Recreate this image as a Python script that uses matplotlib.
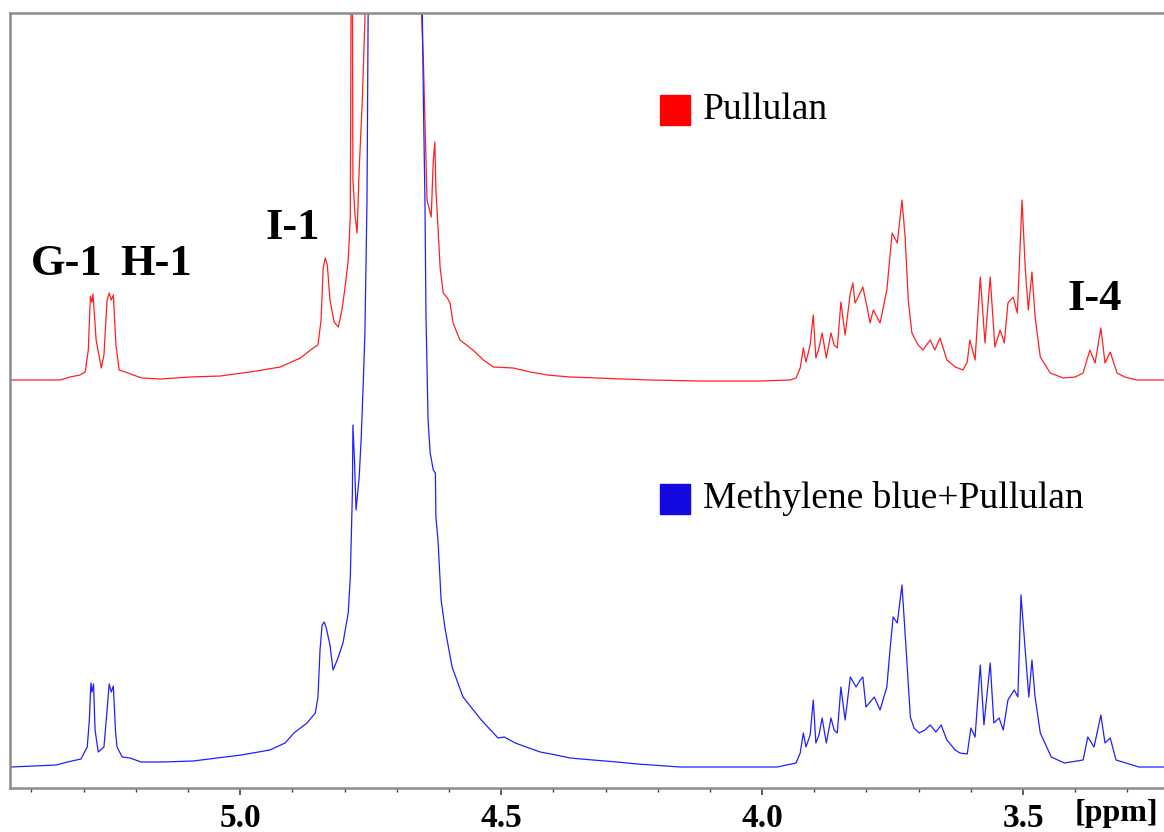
"""1H NMR spectra of pullulan with and without methylene blue (stacked)."""

import matplotlib

matplotlib.use("Agg")
import matplotlib.pyplot as plt  # noqa: E402
from matplotlib.ticker import MultipleLocator  # noqa: E402

# ---- data (chemical shift in ppm, intensity above each trace's baseline) ----
pullulan_ppm = [
    5.441, 5.393, 5.345, 5.326, 5.307, 5.297, 5.291, 5.287, 5.284, 5.282,
    5.276, 5.266, 5.261, 5.255, 5.251, 5.247, 5.243, 5.238, 5.232, 5.220,
    5.205, 5.188, 5.153, 5.096, 5.038, 4.981, 4.923, 4.885, 4.860, 4.851,
    4.845, 4.841, 4.837, 4.833, 4.828, 4.820, 4.812, 4.805, 4.799, 4.793,
    4.789, 4.786, 4.784, 4.780, 4.776, 4.772, 4.766, 4.761, 4.707, 4.653,
    4.649, 4.642, 4.634, 4.630, 4.627, 4.625, 4.622, 4.617, 4.611, 4.603,
    4.598, 4.592, 4.579, 4.554, 4.534, 4.515, 4.477, 4.444, 4.412, 4.368,
    4.316, 4.215, 4.119, 4.004, 3.946, 3.935, 3.927, 3.921, 3.916, 3.908,
    3.902, 3.897, 3.891, 3.885, 3.877, 3.868, 3.862, 3.856, 3.849, 3.841,
    3.831, 3.826, 3.822, 3.816, 3.807, 3.799, 3.793, 3.787, 3.774, 3.761,
    3.751, 3.741, 3.732, 3.726, 3.720, 3.713, 3.701, 3.692, 3.678, 3.669,
    3.659, 3.646, 3.630, 3.615, 3.607, 3.602, 3.592, 3.582, 3.573, 3.563,
    3.554, 3.544, 3.536, 3.529, 3.519, 3.511, 3.502, 3.496, 3.490, 3.483,
    3.477, 3.467, 3.448, 3.423, 3.400, 3.385, 3.372, 3.362, 3.351, 3.343,
    3.333, 3.320, 3.305, 3.282, 3.230,
]
pullulan_int = [
    0, 0, 0, 3, 5, 8, 30, 84, 78, 86,
    40, 12, 25, 80, 87, 80, 85, 35, 10, 8,
    5, 2, 1, 3, 4, 8, 13, 22, 32, 35,
    60, 112, 122, 115, 80, 58, 53, 70, 93, 120,
    163, 600, 200, 165, 147, 210, 280, 360, 1500, 370,
    320, 180, 163, 220, 238, 190, 163, 113, 87, 82,
    77, 57, 40, 30, 20, 13, 12, 8, 5, 3,
    2, 0, -1, -1, 0, 2, 12, 32, 18, 35,
    65, 22, 32, 47, 22, 47, 35, 32, 78, 45,
    87, 97, 77, 83, 93, 73, 57, 70, 57, 90,
    147, 137, 180, 143, 80, 47, 35, 30, 40, 30,
    42, 20, 13, 10, 18, 40, 20, 103, 37, 103,
    33, 50, 37, 77, 83, 67, 180, 113, 70, 108,
    63, 23, 7, 2, 3, 7, 30, 17, 52, 17,
    28, 7, 3, 0, 0,
]

mb_ppm = [
    5.439, 5.352, 5.331, 5.305, 5.293, 5.289, 5.286, 5.284, 5.281, 5.278,
    5.272, 5.261, 5.255, 5.251, 5.247, 5.243, 5.239, 5.236, 5.226, 5.211,
    5.190, 5.148, 5.090, 4.998, 4.943, 4.914, 4.897, 4.872, 4.856, 4.851,
    4.847, 4.843, 4.839, 4.835, 4.828, 4.822, 4.814, 4.803, 4.793, 4.789,
    4.785, 4.784, 4.781, 4.778, 4.772, 4.768, 4.764, 4.761, 4.757, 4.755,
    4.703, 4.651, 4.649, 4.646, 4.644, 4.640, 4.636, 4.630, 4.626, 4.625,
    4.621, 4.617, 4.615, 4.607, 4.594, 4.573, 4.538, 4.506, 4.494, 4.473,
    4.452, 4.425, 4.395, 4.368, 4.347, 4.278, 4.239, 4.157, 4.080, 3.971,
    3.935, 3.927, 3.921, 3.916, 3.908, 3.902, 3.897, 3.891, 3.885, 3.877,
    3.868, 3.862, 3.856, 3.849, 3.841, 3.831, 3.820, 3.812, 3.807, 3.801,
    3.785, 3.774, 3.761, 3.755, 3.749, 3.741, 3.732, 3.724, 3.716, 3.709,
    3.699, 3.688, 3.678, 3.667, 3.657, 3.646, 3.630, 3.621, 3.607, 3.600,
    3.592, 3.582, 3.575, 3.563, 3.556, 3.546, 3.538, 3.529, 3.517, 3.510,
    3.504, 3.496, 3.489, 3.483, 3.477, 3.467, 3.446, 3.421, 3.385, 3.376,
    3.364, 3.351, 3.343, 3.333, 3.322, 3.278, 3.230,
]
mb_int = [
    -2, 0, 3, 6, 18, 45, 82, 73, 81, 35,
    13, 18, 55, 81, 73, 79, 35, 18, 8, 7,
    3, 3, 4, 10, 15, 22, 32, 42, 52, 68,
    115, 140, 143, 137, 120, 95, 105, 122, 152, 188,
    272, 340, 305, 255, 288, 328, 385, 432, 565, 752,
    3000, 752, 665, 565, 448, 345, 312, 295, 292, 248,
    225, 185, 165, 135, 98, 68, 45, 27, 28, 22,
    18, 13, 10, 7, 6, 3, 1, -2, -2, -2,
    2, 12, 32, 18, 30, 65, 22, 30, 47, 22,
    47, 35, 32, 78, 45, 88, 78, 85, 88, 58,
    68, 55, 78, 115, 148, 142, 180, 115, 48, 37,
    32, 35, 40, 33, 40, 25, 15, 12, 11, 37,
    28, 100, 40, 102, 42, 47, 35, 65, 75, 68,
    170, 115, 68, 105, 68, 32, 8, 2, 5, 28,
    18, 50, 22, 27, 5, -2, -2,
]

peak_labels = ["G-1", "H-1", "I-1", "I-4"]
peak_label_ppm = [5.333, 5.161, 4.900, 3.362]
series_names = ["Pullulan", "Methylene blue+Pullulan"]

# ---- figure ----
SERIF = ["Liberation Serif", "DejaVu Serif"]
fig = plt.figure(figsize=(11.64, 8.32), dpi=100)
ax = fig.add_axes([10 / 1164, 44 / 832, 1154 / 1164, 775 / 832])

red_offset, blue_offset = 408, 23
ax.plot(pullulan_ppm, [v + red_offset for v in pullulan_int],
        color="#ff2020", linewidth=0.9)
ax.plot(mb_ppm, [v + blue_offset for v in mb_int],
        color="#2020ff", linewidth=0.9)

ax.set_xlim(5.441, 3.230)
ax.set_ylim(0, 775)
ax.set_yticks([])
ax.xaxis.set_minor_locator(MultipleLocator(0.1))
ax.tick_params(axis="x", which="major", direction="out", length=5, width=1.2,
               color="#444444", pad=6)
ax.tick_params(axis="x", which="minor", direction="out", length=3, width=1.0,
               color="#444444")
ax.set_xticks([5.0, 4.5, 4.0, 3.5])
ax.set_xticklabels(["5.0", "4.5", "4.0", "3.5"], fontsize=24,
                   fontweight="bold", family=SERIF)

for side in ("left", "bottom", "top"):
    ax.spines[side].set_color("#8c8c8c")
    ax.spines[side].set_linewidth(1.8)
ax.spines["right"].set_visible(False)

fig.text(1158 / 1164, 1 - 814 / 832, "[ppm]", ha="right", va="center",
         fontsize=23, fontweight="bold", family=SERIF)

# peak assignments
label_heights = [524, 524, 560, 489]
for name, ppm, h in zip(peak_labels, peak_label_ppm, label_heights):
    ax.text(ppm, h, name, ha="center", va="center", fontsize=32,
            fontweight="bold", family=SERIF)

# legend-like markers
for name, color, yfrac in zip(series_names, ["#ff0000", "#1409e0"],
                              [1 - 97 / 775, 1 - 486 / 775]):
    ax.plot([665 / 1154], [yfrac], marker="s", markersize=21.6, color=color,
            transform=ax.transAxes, clip_on=False)
    ax.text(693 / 1154, yfrac, name, transform=ax.transAxes, ha="left",
            va="center", fontsize=27, family=SERIF)

fig.savefig("out.png", dpi=100)
plt.close(fig)
